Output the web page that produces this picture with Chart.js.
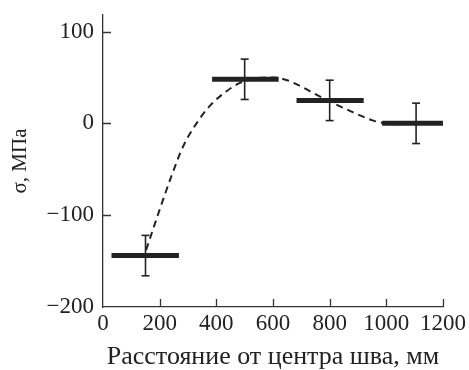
<!DOCTYPE html>
<html>
<head>
<meta charset="utf-8">
<script src="https://cdn.jsdelivr.net/npm/chart.js@4"></script>
<style>
  html, body { margin: 0; padding: 0; background: #fff; }
  #wrap { width: 469px; height: 370px; }
</style>
</head>
<body>
<div id="wrap"><canvas id="chart" width="469" height="370"></canvas></div>
<script>
// zones (bars) — distance from weld centre, mm
const zoneCenter = [150, 500, 800, 1105];
const zoneStart = [30, 385, 683, 985];
const zoneEnd = [268, 620, 920, 1222];
const stress = [-144, 48, 25, 0];
const stressErr = [22, 22, 22, 22];

// dashed fit curve
const curveX = [152, 200, 242, 283, 330, 377, 436, 483, 540, 600, 650, 700, 742, 813, 883, 954, 1000, 1050, 1100];
const curveY = [-138, -94, -57, -25, 0, 19, 35, 44, 49, 50, 47, 40, 33, 22, 12, 3, 0, -1, 0];

const xTicks = [0, 200, 400, 600, 800, 1000, 1200];
const yTicks = [-200, -100, 0, 100];

const ink = '#222';
const font = "'Liberation Serif', 'DejaVu Serif', serif";

const datasets = [];

// dashed curve
datasets.push({
  data: curveX.map((x, i) => ({ x, y: curveY[i] })),
  borderColor: ink,
  borderWidth: 2,
  borderDash: [7, 5],
  pointRadius: 0,
  cubicInterpolationMode: 'monotone',
});

// zone bars
zoneCenter.forEach((c, i) => {
  datasets.push({
    data: [{ x: zoneStart[i], y: stress[i] }, { x: zoneEnd[i], y: stress[i] }],
    borderColor: ink,
    borderWidth: 5,
    pointRadius: 0,
  });
});

// error bars with caps
zoneCenter.forEach((c, i) => {
  datasets.push({
    data: [{ x: c, y: stress[i] - stressErr[i] }, { x: c, y: stress[i] + stressErr[i] }],
    borderColor: ink,
    borderWidth: 1.6,
    pointStyle: 'line',
    pointRadius: 4,
    pointBorderWidth: 1.6,
    pointBorderColor: ink,
  });
});

// inward tick marks
const innerTicks = {
  id: 'innerTicks',
  afterDraw(chart) {
    const { ctx, chartArea: a, scales: { x, y } } = chart;
    ctx.save();
    ctx.strokeStyle = '#333';
    ctx.lineWidth = 1.3;
    ctx.beginPath();
    xTicks.slice(1).forEach(v => {
      const px = Math.round(x.getPixelForValue(v)) + 0.5;
      ctx.moveTo(px, a.bottom);
      ctx.lineTo(px, a.bottom - 8);
    });
    yTicks.slice(1).forEach(v => {
      const py = Math.round(y.getPixelForValue(v)) + 0.5;
      ctx.moveTo(a.left, py);
      ctx.lineTo(a.left + 8, py);
    });
    ctx.stroke();
    ctx.restore();
  }
};

new Chart(document.getElementById('chart'), {
  type: 'line',
  data: { datasets },
  plugins: [innerTicks],
  options: {
    responsive: false,
    animation: false,
    layout: { padding: { top: 15, right: 26, left: 0, bottom: 0 } },
    plugins: { legend: { display: false }, tooltip: { enabled: false } },
    scales: {
      x: {
        type: 'linear',
        min: 0,
        max: 1200,
        afterBuildTicks: s => { s.ticks = xTicks.map(v => ({ value: v })); },
        afterFit: s => { s.height = 63; s.paddingLeft = 0; s.paddingRight = 0; },
        grid: { display: false, drawTicks: false },
        border: { color: '#333', width: 1.3 },
        ticks: {
          color: '#222', font: { family: font, size: 23 }, padding: 3, maxRotation: 0,
          callback: v => String(v),
        },
        title: {
          display: true, text: 'Расстояние от центра шва, мм', color: '#222',
          font: { family: font, size: 26, lineHeight: 1.0 }, padding: 0,
        },
      },
      y: {
        type: 'linear',
        min: -200,
        max: 118,
        afterBuildTicks: s => { s.ticks = yTicks.map(v => ({ value: v })); },
        afterFit: s => { s.width = 103; s.paddingTop = 0; s.paddingBottom = 0; },
        grid: { display: false, drawTicks: false },
        border: { color: '#333', width: 1.3 },
        ticks: {
          color: '#222', font: { family: font, size: 23 }, padding: 9,
          callback: v => (v < 0 ? '\u2212' + Math.abs(v) : String(v)),
        },
        title: {
          display: true, text: 'σ, МПа', color: '#222',
          font: { family: font, size: 21 }, padding: { top: 8, bottom: 0 },
        },
      },
    },
  },
});
</script>
</body>
</html>
